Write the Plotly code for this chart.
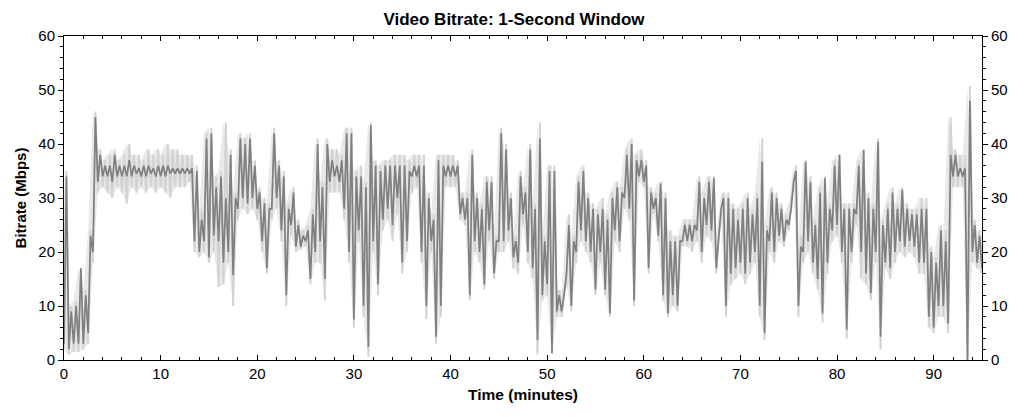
import plotly.graph_objects as go

# time samples (minutes), every 0.5 min from 0 to 95
times = [i * 0.5 for i in range(191)]

# dark (1-second window) series: low and high value within each half-minute
dark_lo = [3, 2, 3, 3, 3, 5, 20, 33, 34, 34, 33, 34, 34, 34, 34, 34.5, 34, 34, 34.5, 34, 34,
           34, 34.5, 34.5, 34.5, 34.5, 34.5, 22, 20, 22, 19, 23, 22, 18, 20, 15.7, 28, 30, 29,
           30, 28, 22, 17, 28, 30, 24, 12, 25, 21, 21, 22, 15, 20, 22, 15, 33, 34, 33, 28, 20,
           7.5, 24, 10, 2.4, 22, 14, 26, 28, 25, 30, 18, 22, 34, 34, 20, 10, 22, 4.3, 10, 34,
           34, 34, 27, 26, 12, 22, 20, 14, 24, 16, 22, 22, 24, 19, 18, 27, 20, 17, 3.7, 12,
           14, 1.3, 9, 9, 16, 10, 20, 24, 22, 20, 13, 20, 13, 8.6, 24, 22, 30, 28, 11, 34,
           33, 17, 28, 23, 12, 8.6, 12, 10, 22, 22, 22, 24, 20, 25, 24, 17, 28, 10, 16, 17,
           18, 16, 18, 20, 10, 5, 22, 20, 23, 22, 25, 33, 10, 20, 22, 18, 15, 8.6, 18, 24,
           25, 20, 5.6, 20, 27, 20, 16, 12.4, 20, 4.3, 18, 17, 20, 22, 21, 22, 21, 18, 18, 8,
           6, 10, 10, 6.8, 34, 34, 34, 0, 20, 18, 17]
dark_hi = [34, 9, 10, 17, 12, 23, 45, 38, 36, 36, 38, 36, 36, 37, 36, 35.5, 36, 36, 35.5, 36, 36,
           36, 35.5, 35.5, 35.5, 35.5, 35.5, 35, 26, 41, 42, 32, 34, 30, 38, 30, 41, 40, 41,
           36, 31, 29, 28, 42, 36, 34, 28, 31, 25, 23, 24, 27, 40, 32, 40, 37, 36, 37, 42, 42,
           34, 34, 32, 43.5, 36, 35, 36, 36, 36, 36, 36, 35, 36, 36, 36, 30, 26, 37, 36, 36,
           36, 36, 30, 30, 38, 30, 28, 33, 33, 22, 42, 39, 30, 22, 34, 31, 39, 28, 41, 22,
           35, 35, 12, 12, 25, 22, 33, 35, 30, 28, 27, 28, 26, 30, 32, 31, 38, 40, 37, 37,
           36, 31, 30, 32.7, 30, 22, 22, 22, 25, 25, 25, 33, 30, 33, 33.7, 22, 30, 30, 28, 26,
           28, 30, 27, 30, 36.7, 24, 31, 30, 28, 26, 28, 35, 21, 36.7, 33, 25, 31, 33.7, 28, 36,
           38, 28, 28, 28, 36, 38.9, 30, 28, 40.4, 25, 28, 31, 28, 31.5, 28, 27, 27, 28, 28, 20,
           18, 24, 22, 38, 38, 35.5, 35.5, 48, 25, 23, 22]

# light (peak envelope) series
light_lo = [2, 1, 1.5, 1.5, 2, 3, 18, 31, 32, 31, 30, 32, 31, 29, 32, 31, 32, 31, 32, 31, 32,
            31, 30, 32, 32, 32, 33, 20, 19, 20, 18, 20, 13.5, 14, 18, 10, 26, 28, 27,
            28, 26, 20, 16, 26, 28, 22, 10, 23, 20, 20.5, 21, 14, 18, 18, 11, 31, 31, 31, 26, 18,
            6, 22, 8, 0.6, 20, 12, 24, 26, 22, 27, 16, 20, 31, 32, 18, 7.6, 20, 3, 8, 32,
            32, 32, 26, 25, 11, 20, 18, 13, 22, 15, 20, 20, 22, 17, 16, 25, 18, 15, 1, 11,
            12, 1, 8, 8, 14, 9, 18, 22, 20, 18, 12, 18, 12, 8, 22, 20, 28, 26, 10, 33,
            32, 16, 27, 22, 11, 8, 10, 9, 21, 21, 20, 22, 18, 23, 22, 16, 26, 8, 14, 15,
            16, 14, 16, 18, 8, 3.7, 20, 18, 22, 21, 24, 32, 8, 18, 20, 16, 13, 7, 16, 22,
            23, 18, 4, 18, 25, 15, 14, 11, 18, 2, 17, 15, 18, 20, 19, 20, 19, 16, 16, 6,
            5, 8, 8, 5, 32, 32, 32, 0, 18, 17, 16]
light_hi = [35, 10, 11, 17, 13, 24, 46, 39, 37, 38, 39, 37, 38, 40, 38, 38, 37, 39, 38, 39, 38,
            40, 39, 39, 38, 38, 38, 36, 28, 42, 43, 34, 35, 44, 39, 31, 42, 41, 42,
            37, 32, 30, 29, 43, 37, 35, 29, 32, 26, 24, 25, 28, 41, 33, 41, 39, 39, 38, 43, 43,
            35, 36, 33, 44, 37, 36, 37, 37, 38, 38, 38, 37, 38, 38, 38, 31, 27, 38, 38, 38,
            38, 37, 31, 31, 39, 31, 29, 34, 34, 23, 43, 40, 31, 23, 35, 32, 40, 29, 44, 23,
            36, 36, 13, 13, 27, 23, 34, 36, 31, 29, 28, 30, 27, 31, 33, 32, 39, 41, 38, 39,
            37, 32, 31, 33, 31, 24, 23, 23, 26, 26, 26, 34, 31, 34, 34, 23, 31, 31, 29, 28,
            29, 31, 28, 31, 41, 25, 32, 31, 29, 27, 29, 36, 23, 37, 34, 26, 32, 34, 29, 37,
            38, 29, 29, 29, 37, 39, 31, 29, 41, 26, 29, 32, 29, 32, 29, 28, 28, 30, 30, 21,
            19, 25, 24, 45, 39, 38, 38, 50.7, 26, 24, 23]

x_ticks = [0, 10, 20, 30, 40, 50, 60, 70, 80, 90]
y_ticks = [0, 10, 20, 30, 40, 50, 60]

LIGHT = "#d3d3d3"
LIGHT_FILL = "#e9e9e9"
DARK = "#808080"


def zigzag(lo, hi):
    xs, ys = [], []
    for t, a, b in zip(times, lo, hi):
        xs += [t, t + 0.25]
        ys += [a, b]
    return xs, ys


lx, ly = zigzag(light_lo, light_hi)
dx, dy = zigzag(dark_lo, dark_hi)

fig = go.Figure()
fig.add_trace(go.Scatter(x=times, y=light_lo, mode="lines", line=dict(width=0, color=LIGHT_FILL),
                         showlegend=False, hoverinfo="skip"))
fig.add_trace(go.Scatter(x=times, y=light_hi, mode="lines", line=dict(width=0, color=LIGHT_FILL),
                         fill="tonexty", fillcolor=LIGHT_FILL, showlegend=False, hoverinfo="skip"))
fig.add_trace(go.Scatter(x=lx, y=ly, mode="lines",
                         line=dict(color=LIGHT, width=2), showlegend=False))
fig.add_trace(go.Scatter(x=dx, y=dy, mode="lines",
                         line=dict(color=DARK, width=1.7), showlegend=False))
# invisible trace for right axis
fig.add_trace(go.Scatter(x=[0], y=[0], mode="markers", marker=dict(opacity=0),
                         yaxis="y2", showlegend=False, hoverinfo="skip"))

font_family = "Liberation Sans, Arial, sans-serif"
fig.update_layout(
    width=1012, height=409,
    margin=dict(l=55, r=27, t=28, b=57),
    plot_bgcolor="white", paper_bgcolor="white",
    font=dict(family=font_family, size=15, color="black"),
    title=dict(text="<b>Video Bitrate: 1-Second Window</b>", x=0.5, xanchor="center",
               y=0.988, yanchor="top",
               font=dict(size=17, family=font_family)),
    xaxis=dict(range=[0, 95], tickvals=x_ticks, ticks="inside", ticklen=5, tickcolor="black",
               showline=True, linecolor="black", linewidth=1, mirror="ticks",
               showgrid=False, zeroline=False,
               minor=dict(dtick=2, ticks="inside", ticklen=3, tickcolor="black"),
               title=dict(text="<b>Time (minutes)</b>", standoff=8, font=dict(size=15.5))),
    yaxis=dict(range=[0, 60], tickvals=y_ticks, ticks="outside", ticklen=5, tickcolor="black",
               showline=True, linecolor="black", linewidth=1,
               showgrid=False, zeroline=False,
               minor=dict(dtick=2, ticks="outside", ticklen=3, tickcolor="black"),
               title=dict(text="<b>Bitrate (Mbps)</b>", standoff=8, font=dict(size=15))),
    yaxis2=dict(range=[0, 60], tickvals=y_ticks, ticks="outside", ticklen=5, tickcolor="black",
                overlaying="y", side="right", showline=True, linecolor="black", linewidth=1,
                showgrid=False, zeroline=False,
                minor=dict(dtick=2, ticks="outside", ticklen=3, tickcolor="black")),
)

fig.write_html("out.html")
